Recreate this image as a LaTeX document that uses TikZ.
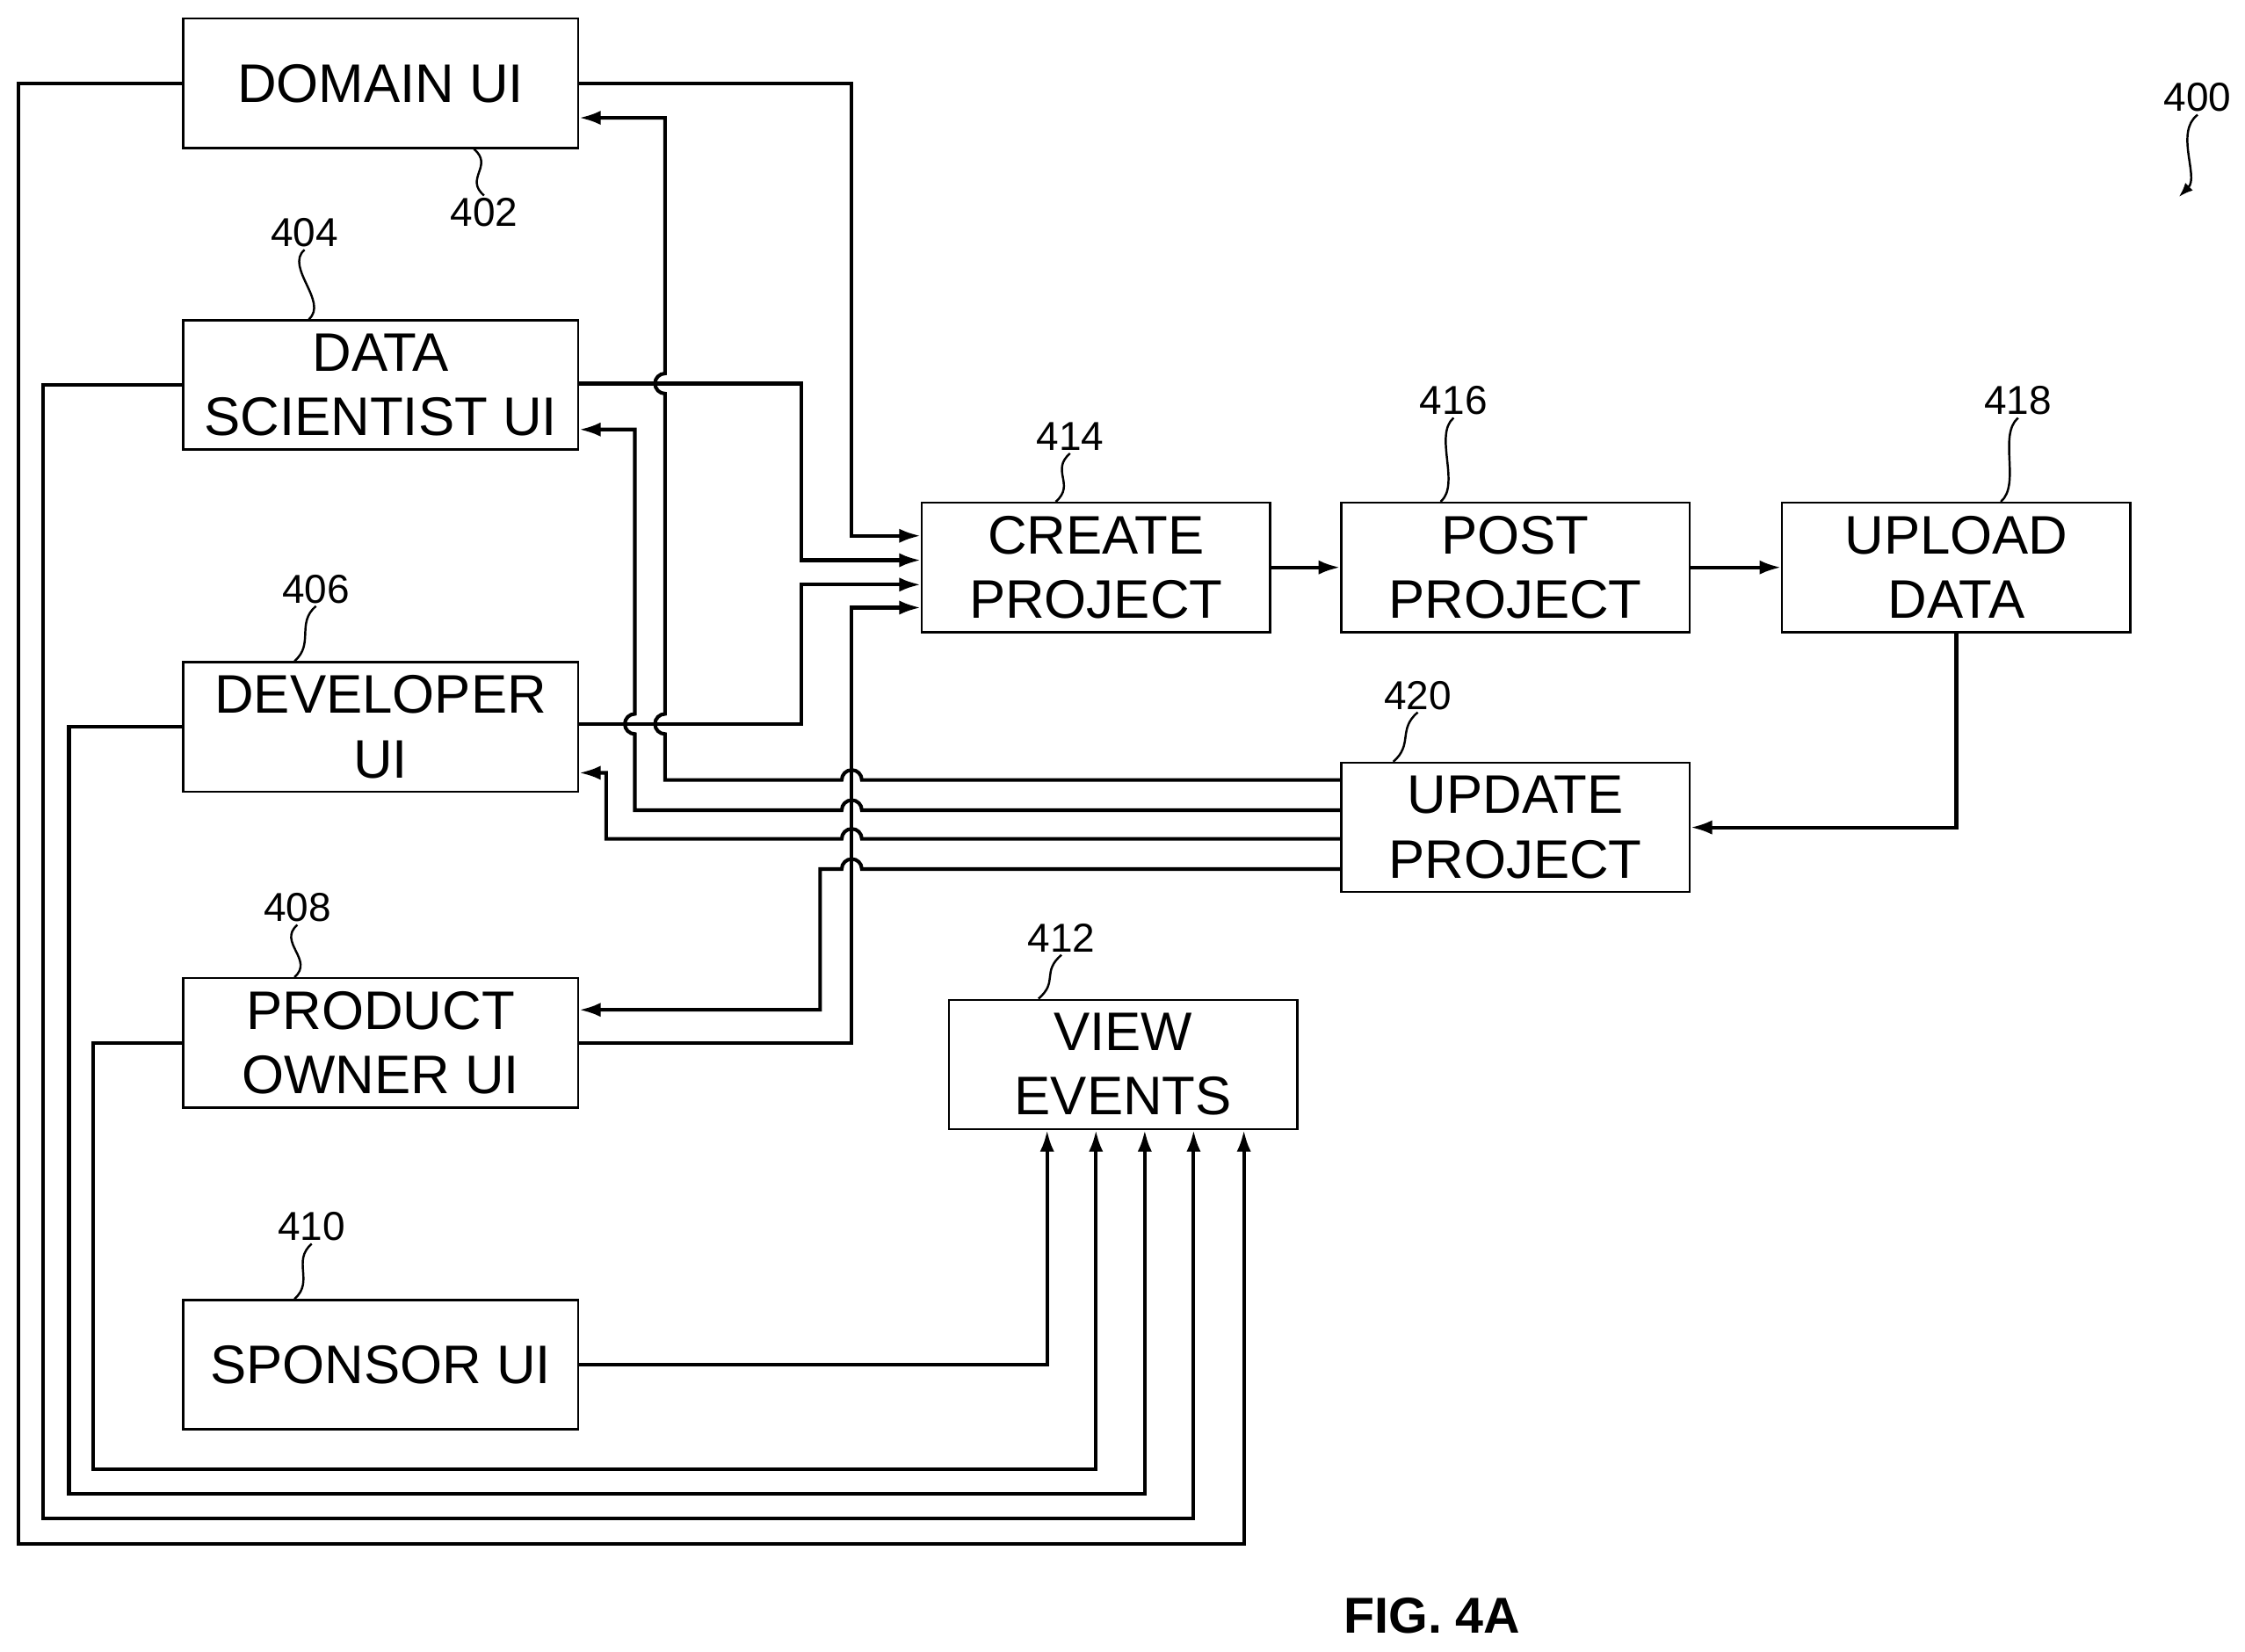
\documentclass[tikz,border=0pt]{standalone}
\usepackage{fontspec}
\setmainfont{Liberation Sans}
\usetikzlibrary{arrows.meta}
\tikzset{
  box/.style={draw, line width=0.6mm, minimum width=110mm, minimum height=36mm,
    align=center, font=\fontsize{43}{51}\selectfont, inner sep=0pt},
  num/.style={font=\fontsize{32}{36}\selectfont, inner sep=2pt},
  wire/.style={line width=1mm},
  arr/.style={wire, -{Latex[length=6mm,width=4mm]}},
  lead/.style={line width=0.6mm},
  hop/.style={radius=7}
}
\begin{document}
\begin{tikzpicture}[x=0.4mm, y=-0.4mm]
  \useasboundingbox (0,0) rectangle (1563,1150);

  % boxes
  \node[box] (dom) at (265,58) {DOMAIN UI};
  \node[box] (ds) at (265,268) {DATA\\SCIENTIST UI};
  \node[box] (dev) at (265,506) {DEVELOPER\\UI};
  \node[box] (po) at (265,726) {PRODUCT\\OWNER UI};
  \node[box] (sp) at (265,950) {SPONSOR UI};
  \node[box, minimum width=97mm] (cre) at (763,395) {CREATE\\PROJECT};
  \node[box, minimum width=97mm] (post) at (1055,395) {POST\\PROJECT};
  \node[box, minimum width=97mm] (upl) at (1362,395) {UPLOAD\\DATA};
  \node[box, minimum width=97mm] (upd) at (1055,576) {UPDATE\\PROJECT};
  \node[box, minimum width=97mm] (ve) at (782,741) {VIEW\\EVENTS};

  % reference numerals
  \node[num] (l400) at (1530,68) {400};
  \node[num] (l402) at (337,148) {402};
  \node[num] (l404) at (212,162) {404};
  \node[num] (l406) at (220,410) {406};
  \node[num] (l408) at (207,632) {408};
  \node[num] (l410) at (217,854) {410};
  \node[num] (l412) at (739,653) {412};
  \node[num] (l414) at (745,304) {414};
  \node[num] (l416) at (1012,279) {416};
  \node[num] (l418) at (1405,279) {418};
  \node[num] (l420) at (987,484) {420};
  \node[font=\bfseries\fontsize{40}{46}\selectfont] (fig) at (997,1125) {FIG. 4A};

  \draw[lead] (l402.north) .. controls +(-14,-12) and +(14,12) .. (dom.south -| 330,0);
  \foreach \l/\b/\x in {l404/ds/215, l406/dev/205, l408/po/205, l410/sp/205,
                        l412/ve/723, l414/cre/735, l416/post/1003, l418/upl/1393, l420/upd/970}
    \draw[lead] (\l.south) .. controls +(-14,12) and +(14,-12) .. (\b.north -| \x,0);
  \coordinate (t400) at (1517,137);
  \draw[lead, -{Latex[length=4mm,width=3mm]}] (l400.south) .. controls +(-16,12) and +(14,-14) .. (t400);

  % flow to the right
  \draw[arr] (cre) -- (post);
  \draw[arr] (post) -- (upl);
  \draw[arr] (upl.south) |- (upd.east |- 0,576);

  % into create project
  \draw[arr] (dom.east) -- (593,58) -- (593,373) -- (cre.west |- 0,373);
  \draw[arr] (ds.east |- 0,267) -- (558,267) -- (558,390) -- (cre.west |- 0,390);
  \draw[arr] (dev.east |- 0,504) -- (558,504) -- (558,407) -- (cre.west |- 0,407);
  \draw[arr] (po.east |- 0,726) -- (593,726) -- (593,423) -- (cre.west |- 0,423);

  % back from update project
  \draw[arr, hop] (upd.west |- 0,543) -- (600,543) arc[start angle=0,end angle=-180]
    -- (463,543) -- (463,511) arc[start angle=90,end angle=270]
    -- (463,274) arc[start angle=90,end angle=270]
    -- (463,82) -- (dom.east |- 0,82);
  \draw[arr, hop] (upd.west |- 0,564) -- (600,564) arc[start angle=0,end angle=-180]
    -- (442,564) -- (442,511) arc[start angle=90,end angle=270]
    -- (442,299) -- (ds.east |- 0,299);
  \draw[arr, hop] (upd.west |- 0,584) -- (600,584) arc[start angle=0,end angle=-180]
    -- (422,584) -- (422,538) -- (dev.east |- 0,538);
  \draw[arr, hop] (upd.west |- 0,605) -- (600,605) arc[start angle=0,end angle=-180]
    -- (571,605) -- (571,703) -- (po.east |- 0,703);

  % into view events
  \draw[arr] (sp.east) -- (729,950) -- (ve.south -| 729,0);
  \draw[arr] (po.west) -- (65,726) -- (65,1023) -- (763,1023) -- (ve.south -| 763,0);
  \draw[arr] (dev.west |- 0,506) -- (48,506) -- (48,1040) -- (797,1040) -- (ve.south -| 797,0);
  \draw[arr] (ds.west) -- (30,268) -- (30,1057) -- (831,1057) -- (ve.south -| 831,0);
  \draw[arr] (dom.west) -- (13,58) -- (13,1075) -- (866,1075) -- (ve.south -| 866,0);
\end{tikzpicture}
\end{document}
